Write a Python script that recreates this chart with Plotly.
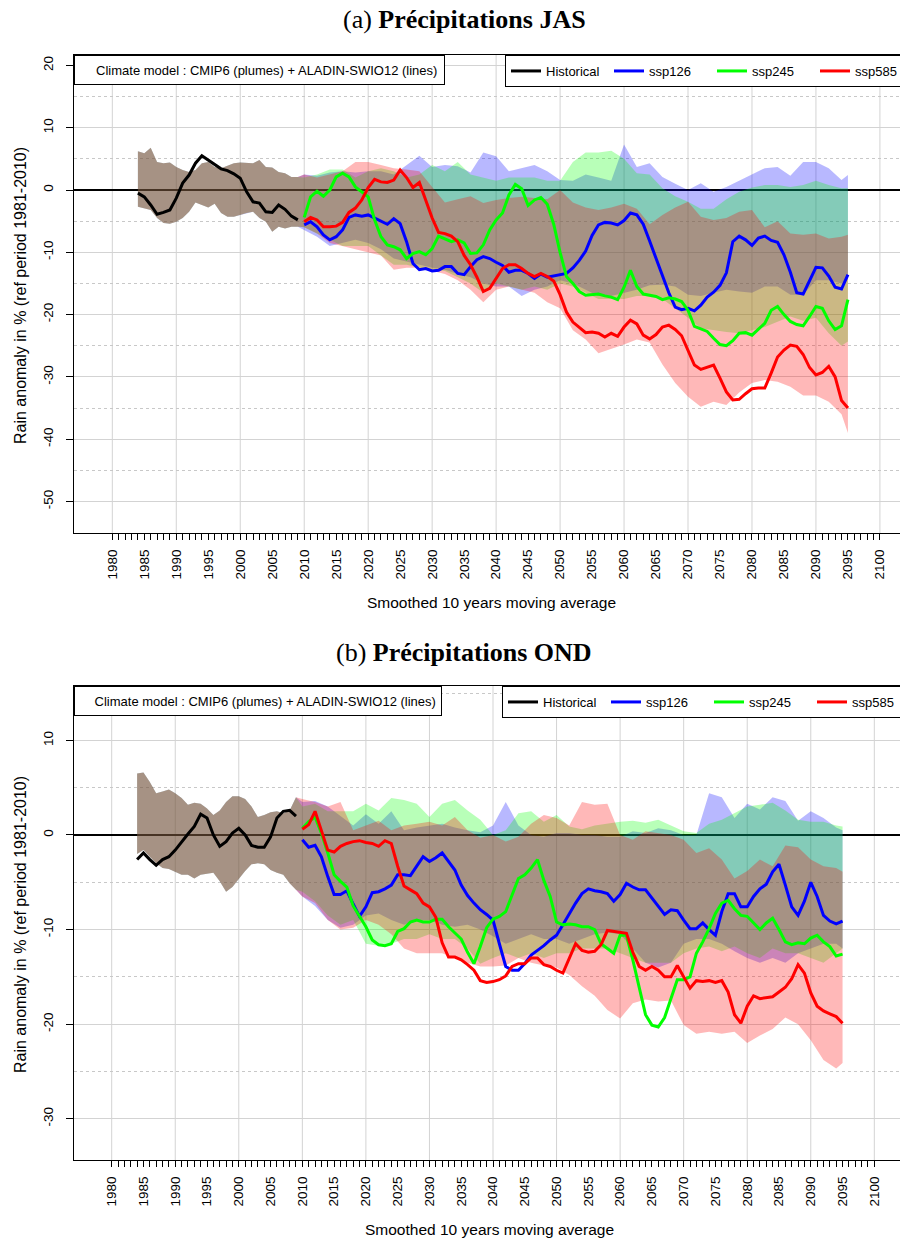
import plotly.graph_objects as go

# ---------------- data ----------------
hist_years = list(range(1984, 2010))
line_years = list(range(2010, 2096))
plume_years = list(range(2010, 2095, 2)) + [2095]
x_tick_years = list(range(1980, 2101, 5))
x_minor_years = list(range(1980, 2101))
x_grid_years = list(range(1980, 2101, 10))
y_ticks_a = [20, 10, 0, -10, -20, -30, -40, -50]
y_minor_a = [15, 5, -5, -15, -25, -35, -45, -55]
y_ticks_b = [10, 0, -10, -20, -30]
y_minor_b = [15, 5, -5, -15, -25]

scen_names = ["ssp126", "ssp245", "ssp585"]
line_colors = ["#0000FF", "#00FF00", "#FF0000"]
fill_colors = ["rgba(0,0,255,0.28)", "rgba(0,255,0,0.28)", "rgba(255,0,0,0.28)"]

# ---- panel (a) JAS ----
hist_a = [-0.5, -1.1, -2.4, -3.9, -3.6, -3.2, -1.3, 1.1, 2.4, 4.3, 5.5, 4.8, 4.0,
          3.4, 3.1, 2.6, 1.9, -0.3, -1.9, -2.1, -3.5, -3.6, -2.4, -3.1, -4.2, -4.8]
hist_hi_a = [6.2, 5.9, 6.8, 4.5, 4.3, 4.4, 3.7, 3.2, 2.9, 3.2, 4.3, 4.5, 3.7,
             3.5, 3.9, 4.3, 4.4, 4.4, 4.3, 4.8, 3.7, 3.6, 2.9, 2.7, 2.1, 2.1]
hist_lo_a = [-2.7, -2.9, -3.2, -4.5, -5.3, -5.4, -5.1, -4.5, -3.5, -2.0, -2.4, -2.8, -2.2,
             -3.7, -4.3, -4.3, -4.0, -3.7, -3.5, -4.5, -5.1, -6.7, -5.9, -6.2, -5.9, -5.9]

ssp126_a = [-5.6, -5.1, -5.9, -7.2, -8.0, -7.5, -6.4, -4.4, -4.0, -4.2,
            -4.0, -4.5, -5.1, -5.5, -4.6, -5.4, -8.3, -11.8, -12.8, -12.6,
            -13.0, -12.9, -12.3, -12.3, -13.4, -13.6, -12.3, -11.2, -10.7, -11.0,
            -11.6, -12.1, -13.2, -12.9, -12.9, -13.4, -14.2, -13.5, -14.0, -13.8,
            -13.7, -13.4, -12.5, -11.3, -9.8, -7.3, -5.6, -5.2, -5.3, -5.6,
            -4.9, -3.7, -4.0, -5.5, -8.2, -11.0, -13.5, -16.5, -18.8, -19.2,
            -19.0, -19.4, -18.5, -17.2, -16.4, -15.3, -13.3, -8.3, -7.4, -8.0,
            -8.9, -7.7, -7.4, -8.1, -8.4, -10.4, -13.2, -16.5, -16.7, -14.5,
            -12.4, -12.5, -13.8, -15.6, -15.9, -13.6]
ssp245_a = [-4.4, -1.1, -0.2, -1.0, 0.0, 2.1, 2.7, 2.1, 0.5, -0.3,
            -1.1, -4.8, -7.5, -8.8, -9.1, -9.6, -11.0, -10.2, -9.9, -10.4,
            -9.4, -7.4, -7.9, -8.3, -8.0, -8.5, -10.2, -10.1, -8.8, -6.4,
            -4.8, -3.7, -0.8, 0.9, 0.2, -2.5, -1.6, -1.2, -2.3, -5.5,
            -10.0, -13.9, -15.0, -16.3, -16.9, -16.8, -16.7, -17.0, -17.2, -17.6,
            -15.6, -12.9, -15.5, -16.7, -16.9, -17.1, -17.6, -17.3, -17.5, -17.9,
            -19.3, -21.9, -22.3, -22.7, -23.8, -24.8, -25.0, -24.2, -23.0, -22.9,
            -23.3, -22.4, -21.4, -19.3, -18.7, -20.0, -21.1, -21.6, -21.8, -20.3,
            -18.7, -19.0, -21.0, -22.4, -21.8, -17.6]
ssp585_a = [-5.1, -4.4, -4.8, -5.9, -5.9, -5.8, -5.2, -3.6, -2.9, -1.6,
            0.4, 1.7, 1.3, 1.2, 1.6, 3.2, 2.0, 0.4, 1.2, -1.5,
            -4.5, -6.8, -7.0, -7.4, -8.3, -10.5, -12.0, -14.0, -16.3, -15.8,
            -14.2, -12.6, -12.0, -12.0, -12.6, -13.4, -13.9, -13.4, -13.9, -14.6,
            -16.8, -19.6, -21.2, -22.0, -22.9, -22.8, -23.0, -23.6, -23.0, -23.5,
            -22.0, -20.9, -21.5, -23.3, -23.9, -23.2, -22.0, -21.7, -22.4, -23.4,
            -25.7, -28.1, -28.8, -28.5, -28.1, -30.2, -32.4, -33.7, -33.6, -32.7,
            -31.9, -31.8, -31.8, -29.4, -26.8, -25.7, -24.9, -25.1, -26.4, -28.5,
            -29.7, -29.3, -28.3, -30.0, -33.8, -35.0]

hi126_a = [2.5, 2.3, 2.8, 3.0, 2.8, 3.0, 3.0, 2.5, 4.0, 5.5, 3.7, 4.0, 3.8, 2.8, 6.0,
           5.4, 3.0, 3.5, 4.0, 3.0, 1.6, 1.5, 2.5, 2.0, 1.5, 7.3, 3.7, 4.3, 2.1, 1.0,
           0.0, 1.1, -0.3, 0.5, 1.5, 2.5, 3.5, 3.7, 2.3, 4.5, 4.5, 3.5, 1.6, 2.4]
hi245_a = [2.0, 2.5, 3.3, 3.3, 2.0, 3.0, 3.5, 3.0, 2.0, 2.5, 4.0, 3.0, 4.5, 2.5, 2.0,
           1.5, 2.0, 2.0, 2.0, 1.5, 1.5, 4.5, 6.0, 6.0, 6.3, 5.0, 2.7, 2.5, 0.3, -1.0,
           -1.9, -3.0, -3.0, -1.5, -0.3, 0.4, 0.8, 0.8, 0.5, 0.8, 1.5, 0.8, 0.3, 0.3]
hi585_a = [2.5, 2.0, 2.5, 3.0, 4.5, 4.5, 4.0, 3.5, 3.3, 3.0, 0.5, -2.0, -1.5, -1.0, -2.1,
           -1.6, -1.3, -1.1, -1.3, -1.5, 0.0, -2.0, -2.8, -3.2, -2.8, -2.2, -3.0, -5.5, -4.0, -2.8,
           -1.9, -4.3, -4.8, -4.5, -3.5, -3.2, -6.0, -5.0, -7.0, -7.2, -7.0, -7.8, -7.5, -7.2]
lo126_a = [-6.5, -7.5, -9.0, -8.5, -8.0, -8.5, -9.5, -11.0, -11.5, -12.0, -12.5, -12.8, -13.5, -14.0, -15.0,
           -15.5, -15.5, -17.0, -16.0, -15.5, -14.5, -15.0, -16.0, -17.0, -17.0, -16.5, -16.0, -15.3, -15.2, -15.5,
           -16.8, -17.0, -16.5, -16.0, -16.3, -16.5, -15.5, -15.5, -16.8, -16.8, -14.5, -14.5, -15.0, -14.3]
lo245_a = [-6.0, -7.0, -8.0, -9.0, -9.0, -9.0, -10.5, -12.0, -12.0, -12.5, -12.8, -13.0, -14.0, -15.0, -16.5,
           -15.0, -15.5, -16.0, -15.5, -16.0, -15.0, -15.5, -16.5, -17.5, -17.5, -17.5, -17.0, -17.0, -17.5, -19.0,
           -20.5, -22.2, -22.5, -22.8, -23.0, -22.5, -22.0, -21.2, -20.3, -21.0, -20.5, -23.0, -25.0, -24.3]
lo585_a = [-6.0, -7.0, -8.5, -9.0, -9.5, -10.0, -10.5, -12.8, -12.5, -12.5, -13.0, -13.5, -14.5, -16.0, -18.0,
           -16.0, -15.5, -16.0, -16.5, -18.0, -19.0, -22.5, -24.0, -26.2, -25.5, -24.8, -24.0, -24.5, -28.0, -31.0,
           -33.2, -34.8, -34.0, -34.5, -32.5, -31.0, -30.5, -30.8, -31.6, -33.0, -33.0, -34.0, -36.0, -39.0]

# ---- panel (b) OND ----
hist_b = [-2.6, -1.9, -2.6, -3.2, -2.6, -2.3, -1.6, -0.7, 0.1, 0.9, 2.2, 1.8, 0.0,
          -1.2, -0.7, 0.2, 0.7, 0.0, -1.1, -1.3, -1.3, -0.2, 1.8, 2.5, 2.6, 2.0]
hist_hi_b = [6.5, 6.6, 5.6, 4.4, 4.6, 4.8, 4.4, 3.9, 3.2, 3.4, 3.3, 2.8, 2.1,
             2.6, 3.5, 4.1, 4.1, 3.8, 3.0, 1.9, 2.1, 2.4, 2.5, 2.3, 2.6, 4.0]
hist_lo_b = [-2.0, -1.6, -2.3, -3.0, -3.5, -3.6, -3.9, -4.2, -4.2, -4.6, -4.2, -4.1, -4.0,
             -4.9, -6.0, -5.5, -4.6, -3.8, -3.1, -3.0, -3.1, -3.7, -4.0, -4.2, -5.1, -5.8]

ssp126_b = [-0.5, -1.3, -1.1, -2.3, -4.4, -6.3, -6.3, -5.9, -7.3, -8.6,
            -7.6, -6.1, -6.0, -5.7, -5.3, -4.2, -4.2, -4.3, -3.3, -2.3,
            -2.8, -2.4, -1.9, -2.8, -3.7, -5.3, -6.4, -7.2, -7.9, -8.4,
            -9.0, -11.5, -13.9, -14.3, -14.3, -13.6, -12.7, -12.2, -11.7, -11.1,
            -10.6, -9.5, -8.3, -7.2, -6.2, -5.7, -5.9, -6.0, -6.2, -7.0,
            -6.3, -5.1, -5.5, -5.8, -5.8, -6.7, -7.5, -8.4, -7.9, -8.0,
            -9.0, -9.9, -9.9, -9.3, -10.0, -10.6, -8.1, -6.2, -6.2, -7.6,
            -7.6, -6.5, -5.7, -5.2, -3.9, -3.1, -5.3, -7.6, -8.5, -7.0,
            -5.0, -6.5, -8.5, -9.1, -9.4, -9.1]
ssp245_b = [0.7, 1.4, 1.9, 0.2, -1.9, -4.2, -4.9, -5.5, -7.5, -8.6,
            -9.7, -11.1, -11.6, -11.7, -11.5, -10.2, -9.9, -9.2, -9.0, -9.2,
            -9.2, -8.9, -8.9, -9.7, -10.4, -11.0, -12.4, -13.6, -11.8, -9.8,
            -8.9, -8.6, -8.1, -6.3, -4.6, -4.2, -3.5, -2.6, -4.8, -6.5,
            -9.2, -9.5, -9.4, -9.5, -9.7, -9.7, -10.0, -11.5, -12.0, -12.5,
            -10.6, -10.6, -13.2, -16.0, -19.0, -20.1, -20.3, -19.3, -17.4, -15.3,
            -15.3, -15.0, -12.5, -11.3, -9.9, -8.3, -7.2, -6.9, -7.8, -8.5,
            -8.6, -9.3, -10.0, -9.3, -8.8, -10.0, -11.3, -11.6, -11.4, -11.5,
            -10.9, -10.6, -11.3, -11.8, -12.8, -12.6]
ssp585_b = [0.6, 1.1, 2.5, 0.5, -1.6, -1.8, -1.2, -0.9, -0.7, -0.6,
            -0.8, -0.9, -1.2, -0.6, -0.9, -3.3, -5.4, -5.8, -6.2, -7.2,
            -7.6, -8.7, -11.4, -12.9, -12.9, -13.2, -13.7, -14.3, -15.4, -15.6,
            -15.5, -15.3, -14.9, -13.9, -13.6, -13.6, -13.0, -13.0, -13.7, -13.9,
            -14.3, -14.6, -13.0, -11.5, -12.2, -12.4, -12.3, -11.6, -10.1, -10.2,
            -10.3, -10.4, -12.4, -13.9, -14.3, -13.9, -14.3, -15.0, -15.0, -13.8,
            -15.0, -16.2, -15.4, -15.5, -15.4, -15.6, -15.4, -16.6, -19.0, -19.9,
            -18.1, -17.0, -17.3, -17.2, -17.1, -16.6, -16.1, -15.2, -13.7, -14.6,
            -16.7, -18.1, -18.6, -18.9, -19.2, -19.9]

hi126_b = [3.5, 3.6, 3.0, 2.0, 1.0, 2.2, 1.2, 2.5, 0.5, 0.8, 1.0, 1.2, 0.8, 0.5, 0.3,
           1.0, 3.5, 1.0, 0.0, -0.2, 0.2, 0.2, 0.0, 0.0, -0.2, -0.2, 0.4, 0.2, 0.7, 0.5,
           0.0, 0.0, 4.4, 4.0, 1.8, 3.3, 2.7, 4.0, 3.6, 1.5, 2.5, 1.8, 0.8, 0.5]
hi245_b = [3.0, 3.3, 2.5, 2.5, 2.5, 3.3, 2.6, 3.9, 3.7, 3.3, 1.9, 3.3, 3.7, 2.6, 1.6,
           0.0, 0.5, 2.3, 2.5, 1.4, 2.1, 0.9, 0.6, 1.0, 1.2, 1.4, 1.5, 1.3, 1.6, 1.0,
           0.4, 0.2, 1.2, 1.6, 2.3, 3.0, 3.2, 3.4, 2.6, 1.6, 1.4, 1.4, 1.0, 0.9]
hi585_b = [3.8, 3.5, 3.0, 3.5, 0.5, 1.0, 1.5, 0.5, 1.0, 1.2, 1.4, 1.0, 1.9, 0.5, -0.3,
           0.0, -0.7, -0.2, 1.2, 2.1, 1.8, 1.0, 3.5, 3.2, 3.3, 0.0, -0.5, 0.4, 0.2, 0.0,
           -0.5, -1.9, -1.4, -2.6, -4.6, -3.8, -2.6, -3.3, -1.1, -1.3, -2.6, -3.3, -3.5, -3.9]
lo126_b = [-6.5, -7.5, -9.0, -9.8, -9.5, -8.5, -8.3, -9.0, -9.5, -9.0, -9.0, -9.5, -9.7, -9.5, -10.0,
           -10.7, -11.5, -11.0, -10.5, -11.0, -11.0, -11.5, -11.0, -10.5, -10.3, -10.5, -12.0, -13.5, -14.0, -13.5,
           -11.5, -11.0, -11.0, -11.5, -12.3, -13.0, -13.5, -13.0, -13.5, -12.5, -12.0, -11.5, -11.5, -12.0]
lo245_b = [-6.0, -7.0, -8.5, -9.5, -9.0, -11.5, -11.7, -11.5, -11.0, -11.0, -10.5, -11.0, -11.0, -12.0, -13.6,
           -13.0, -12.5, -13.0, -12.5, -13.0, -12.5, -12.5, -12.0, -12.0, -12.0, -12.5, -13.0, -13.5, -13.5, -13.5,
           -12.5, -12.0, -11.8, -12.3, -11.8, -12.5, -13.0, -12.0, -12.5, -12.5, -13.0, -13.5, -12.5, -12.0]
lo585_b = [-6.5, -7.2, -9.0, -10.0, -9.8, -9.0, -9.5, -10.5, -12.0, -12.5, -12.5, -12.5, -13.0, -13.5, -13.9,
           -13.9, -13.8, -13.0, -13.5, -13.8, -14.0, -14.8, -16.0, -17.0, -18.5, -19.4, -17.8, -17.4, -17.6, -17.5,
           -20.1, -21.0, -20.8, -21.0, -20.8, -22.0, -21.2, -20.5, -19.3, -20.0, -21.7, -23.8, -24.7, -24.1]

# ---------------- figure ----------------
W, H = 900, 1241
SANS = "Liberation Sans"
SERIF = "Liberation Serif"

panels = [
    dict(xa="x", ya="y", legend="legend", hist=hist_a, hist_hi=hist_hi_a, hist_lo=hist_lo_a,
         lines=[ssp126_a, ssp245_a, ssp585_a], his=[hi126_a, hi245_a, hi585_a],
         los=[lo126_a, lo245_a, lo585_a]),
    dict(xa="x2", ya="y2", legend="legend2", hist=hist_b, hist_hi=hist_hi_b, hist_lo=hist_lo_b,
         lines=[ssp126_b, ssp245_b, ssp585_b], his=[hi126_b, hi245_b, hi585_b],
         los=[lo126_b, lo245_b, lo585_b]),
]

fig = go.Figure()
for p in panels:
    px = hist_years + plume_years
    for k in range(3):
        hi = p["hist_hi"] + p["his"][k]
        lo = p["hist_lo"] + p["los"][k]
        fig.add_trace(go.Scatter(
            x=px + px[::-1], y=hi + lo[::-1], mode="lines", fill="toself",
            fillcolor=fill_colors[k], line=dict(width=0), showlegend=False,
            hoverinfo="skip", xaxis=p["xa"], yaxis=p["ya"]))
    fig.add_trace(go.Scatter(x=hist_years, y=p["hist"], mode="lines", name="Historical",
                             line=dict(color="black", width=3), xaxis=p["xa"], yaxis=p["ya"],
                             legend=p["legend"]))
    for k in range(3):
        fig.add_trace(go.Scatter(x=line_years, y=p["lines"][k], mode="lines", name=scen_names[k],
                                 line=dict(color=line_colors[k], width=3),
                                 xaxis=p["xa"], yaxis=p["ya"], legend=p["legend"]))

def xaxis_cfg(rng, anchor):
    return dict(range=rng, domain=[74 / W, 1.0], anchor=anchor,
                tickmode="array", tickvals=x_tick_years, ticktext=[str(v) for v in x_tick_years],
                tickangle=-90, ticks="outside", ticklen=6, tickcolor="black",
                ticklabelstandoff=4,
                tickfont=dict(family=SANS, size=13.5, color="black"),
                minor=dict(tickmode="array", tickvals=x_minor_years, ticks="outside",
                           ticklen=6, tickcolor="black", showgrid=False),
                showgrid=False, zeroline=False, showline=True, linecolor="black",
                linewidth=1, mirror=True)

def yaxis_cfg(rng, dom, anchor, ticks, minor):
    return dict(range=rng, domain=dom, anchor=anchor,
                tickmode="array", tickvals=ticks, ticktext=[str(v) for v in ticks],
                tickangle=-90, ticks="outside", ticklen=7, tickcolor="black",
                ticklabelstandoff=8,
                tickfont=dict(family=SANS, size=13.5, color="black"),
                showgrid=True, gridcolor="#D3D3D3", gridwidth=1,
                minor=dict(tickmode="array", tickvals=minor, ticks="", showgrid=True,
                           gridcolor="#C8C8C8", griddash="dot", gridwidth=1),
                zeroline=True, zerolinecolor="black", zerolinewidth=2,
                showline=True, linecolor="black", linewidth=1, mirror=True)

ya_dom = [1 - 533 / H, 1 - 55 / H]
yb_dom = [1 - 1160 / H, 1 - 686 / H]

shapes = []
for xr, yr in (("x", "y domain"), ("x2", "y2 domain")):
    for g in x_grid_years:
        shapes.append(dict(type="line", xref=xr, yref=yr, x0=g, x1=g, y0=0, y1=1,
                           line=dict(color="#D3D3D3", width=1), layer="below"))

def legend_cfg(x, y):
    return dict(x=x, y=y, xanchor="left", yanchor="top", orientation="h",
                bgcolor="white", bordercolor="black", borderwidth=1,
                font=dict(family=SANS, size=13, color="black"),
                itemwidth=30, entrywidth=58, entrywidthmode="pixels",
                tracegroupgap=0)

ann = []
for ytop in (55, 686):
    ann.append(dict(text="\u00a0\u00a0\u00a0\u00a0Climate model : CMIP6 (plumes) + ALADIN-SWIO12 (lines)",
                    x=74 / W, y=1 - ytop / H, xref="paper", yref="paper",
                    xanchor="left", yanchor="top", showarrow=False,
                    width=369 if ytop == 55 else 366, height=28, borderpad=0,
                    bordercolor="black", borderwidth=1, bgcolor="white",
                    font=dict(family=SANS, size=13, color="black")))
for ty, lab in ((20, "(a) <b>Précipitations JAS</b>"), (652, "(b) <b>Précipitations OND</b>")):
    ann.append(dict(text=lab, x=464 / W, y=1 - ty / H, xref="paper", yref="paper",
                    xanchor="center", yanchor="middle", showarrow=False,
                    font=dict(family=SERIF, size=26, color="black")))
for ty, tx in ((603, 492), (1229, 490)):
    ann.append(dict(text="Smoothed 10 years moving average", x=tx / W, y=1 - ty / H,
                    xref="paper", yref="paper", xanchor="center", yanchor="middle",
                    showarrow=False, font=dict(family=SANS, size=15.5, color="black")))
for ty in (296, 925):
    ann.append(dict(text="Rain anomaly in % (ref period 1981-2010)", x=20 / W, y=1 - ty / H,
                    xref="paper", yref="paper", xanchor="center", yanchor="middle",
                    textangle=-90, showarrow=False,
                    font=dict(family=SANS, size=16, color="black")))

fig.update_layout(
    width=W, height=H, margin=dict(l=0, r=0, t=0, b=0, autoexpand=False),
    paper_bgcolor="white", plot_bgcolor="white",
    xaxis=xaxis_cfg([1974.01, 2103.14], "y"),
    yaxis=yaxis_cfg([-55.06, 21.67], ya_dom, "x", y_ticks_a, y_minor_a),
    xaxis2=xaxis_cfg([1974.07, 2104.04], "y2"),
    yaxis2=yaxis_cfg([-34.36, 15.75], yb_dom, "x2", y_ticks_b, y_minor_b),
    legend=legend_cfg(505 / W, 1 - 55 / H),
    legend2=legend_cfg(502 / W, 1 - 686 / H),
    shapes=shapes, annotations=ann, showlegend=True,
)

fig.write_html("out.html", config={"displayModeBar": False},
               post_script="document.body.style.margin='0';document.body.style.padding='0';")
